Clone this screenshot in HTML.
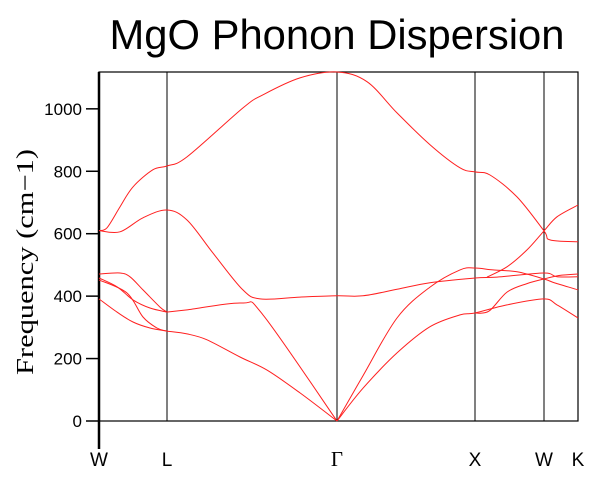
<!DOCTYPE html>
<html><head><meta charset="utf-8"><style>
html,body{margin:0;padding:0;background:#fff;}
svg{display:block;}
</style></head><body>
<svg id="chart" width="604" height="481" viewBox="0 0 604 481" xmlns="http://www.w3.org/2000/svg">
<text x="337" y="49" text-anchor="middle" font-family="Liberation Sans, sans-serif" font-size="42" textLength="455" lengthAdjust="spacingAndGlyphs">MgO Phonon Dispersion</text>
<text transform="translate(33,262) rotate(-90)" text-anchor="middle" font-family="Liberation Serif, serif" font-size="24" textLength="226" lengthAdjust="spacingAndGlyphs">Frequency (cm−1)</text>
<g id="axes"></g>
<g id="bands"></g>
</svg>
<script>
const kPoints = [0, 0.68, 2.38, 3.76, 4.45, 4.79];
const kLabels = ["W", "L", "Γ", "X", "W", "K"];
const yTicks = [0, 200, 400, 600, 800, 1000];
const wl1 = [[0,471],[0.21,474],[0.31,462],[0.44,420],[0.61,365],[0.68,349]];
const wl2 = [[0,458],[0.18,430],[0.34,388],[0.51,362],[0.68,349]];
const wl3 = [[0,452],[0.28,410],[0.44,333],[0.58,298],[0.68,288]];
const wl4 = [[0,391],[0.18,349],[0.34,317],[0.51,298],[0.68,288]];
const topOptical = [[0,610],[0.08,619],[0.21,686],[0.34,750],[0.54,805],[0.68,817],[0.88,846],[1.44,1003],[1.64,1045],[2.01,1099],[2.38,1118],[2.68,1087],[2.98,987],[3.31,885],[3.61,811],[3.76,798],[3.91,788],[4.18,718],[4.45,609],[4.51,580],[4.79,574]];
const secondOptical = [[0,610],[0.21,606],[0.44,651],[0.68,676],[0.88,644],[1.14,538],[1.43,423],[1.61,391],[2.01,397],[2.38,401],[2.64,401],[2.98,422],[3.31,443],[3.76,458],[3.98,461],[4.45,474],[4.58,462],[4.79,462]];
const laL = [[0.68,349],[0.88,356],[1.43,378],[1.64,340],[2.38,0]];
const taL = [[0.68,288],[0.88,279],[1.08,260],[1.41,205],[1.68,163],[2.01,90],[2.38,0]];
const upperX = [[2.38,0],[2.64,145],[2.98,330],[3.31,429],[3.61,484],[3.76,490],[3.94,484],[4.18,478],[4.45,455],[4.56,442],[4.79,420]];
const lowerX = [[2.38,0],[2.64,105],[2.98,218],[3.31,302],[3.61,340],[3.76,346],[4.08,372],[4.45,391],[4.58,372],[4.79,330]];
const midWK = [[3.76,346],[3.9,352],[4.08,413],[4.28,440],[4.45,455],[4.6,466],[4.79,471]];
const risingWK = [[3.88,461],[4.08,494],[4.28,548],[4.45,609],[4.58,654],[4.79,692]];
const segments = [wl1, wl2, wl3, wl4, topOptical, secondOptical, laL, taL, upperX, lowerX, midWK, risingWK];
const segNames = ["band-w-l-1","band-w-l-2","band-w-l-3","band-w-l-4","band-top-optical","band-second-optical","band-la-l-gamma","band-ta-l-gamma","band-upper-gamma-k","band-lower-gamma-k","band-mid-x-k","band-rising-x-k"];

const X0 = 99, X1 = 578, YT = 72, YB = 421, FMAX = 1118;
const kMax = kPoints[kPoints.length - 1];
function xs(k){ return X0 + (k / kMax) * (X1 - X0); }
function ys(f){ return YB - (f / FMAX) * (YB - YT); }
const NS = "http://www.w3.org/2000/svg";
const axes = document.getElementById('axes');
const bands = document.getElementById('bands');
function mk(tag, attrs, parent){ const e = document.createElementNS(NS, tag); for (const a in attrs) e.setAttribute(a, attrs[a]); parent.appendChild(e); return e; }

let fr = mk('rect', {x:X0, y:YT, width:X1-X0, height:YB-YT, fill:'none', stroke:'#000', 'stroke-width':1.2}, axes);


let la = mk('line', {x1:X0, y1:YT, x2:X0, y2:449, stroke:'#000', 'stroke-width':2.5}, axes);



yTicks.forEach(t => {
  const y = ys(t);
  const tk = mk('line', {x1:86, y1:y, x2:X0, y2:y, stroke:'#000', 'stroke-width':1.5}, axes);
  
  
  const tl = mk('text', {x:82, y:y+6, 'text-anchor':'end', 'font-family':'Liberation Sans, sans-serif', 'font-size':17}, axes);
  tl.textContent = t;
  
  
});

kPoints.forEach((k, i) => {
  const x = xs(k);
  if (i > 0 && i < kPoints.length - 1) {
    const vl = mk('line', {x1:x, y1:YT, x2:x, y2:YB, stroke:'#000', 'stroke-width':1}, axes);
    
    
  }
  const isG = kLabels[i] === "Γ";
  const lb = mk('text', {x:x, y:466, 'text-anchor':'middle', 'font-family': isG ? 'Liberation Serif, serif' : 'Liberation Sans, sans-serif', 'font-size': isG ? 21 : 19}, axes);
  lb.textContent = kLabels[i];
  
  
});

function smoothPath(P){
  let d = 'M' + P[0][0].toFixed(1) + ',' + P[0][1].toFixed(1);
  for (let i = 0; i < P.length - 1; i++) {
    const p0 = P[i-1] || P[i], p1 = P[i], p2 = P[i+1], p3 = P[i+2] || P[i+1];
    const t = 6;
    const c1 = [p1[0] + (p2[0]-p0[0])/t, p1[1] + (p2[1]-p0[1])/t];
    const c2 = [p2[0] - (p3[0]-p1[0])/t, p2[1] - (p3[1]-p1[1])/t];
    d += ' C' + c1[0].toFixed(1) + ',' + c1[1].toFixed(1) + ' ' + c2[0].toFixed(1) + ',' + c2[1].toFixed(1) + ' ' + p2[0].toFixed(1) + ',' + p2[1].toFixed(1);
  }
  return d;
}

segments.forEach((seg, i) => {
  const P = seg.map(p => [xs(p[0]), ys(p[1])]);
  const pl = mk('path', {d:smoothPath(P), fill:'none', stroke:'#ff2020', 'stroke-width':1, 'stroke-linejoin':'round'}, bands);
  
  
});
</script>
</body></html>
